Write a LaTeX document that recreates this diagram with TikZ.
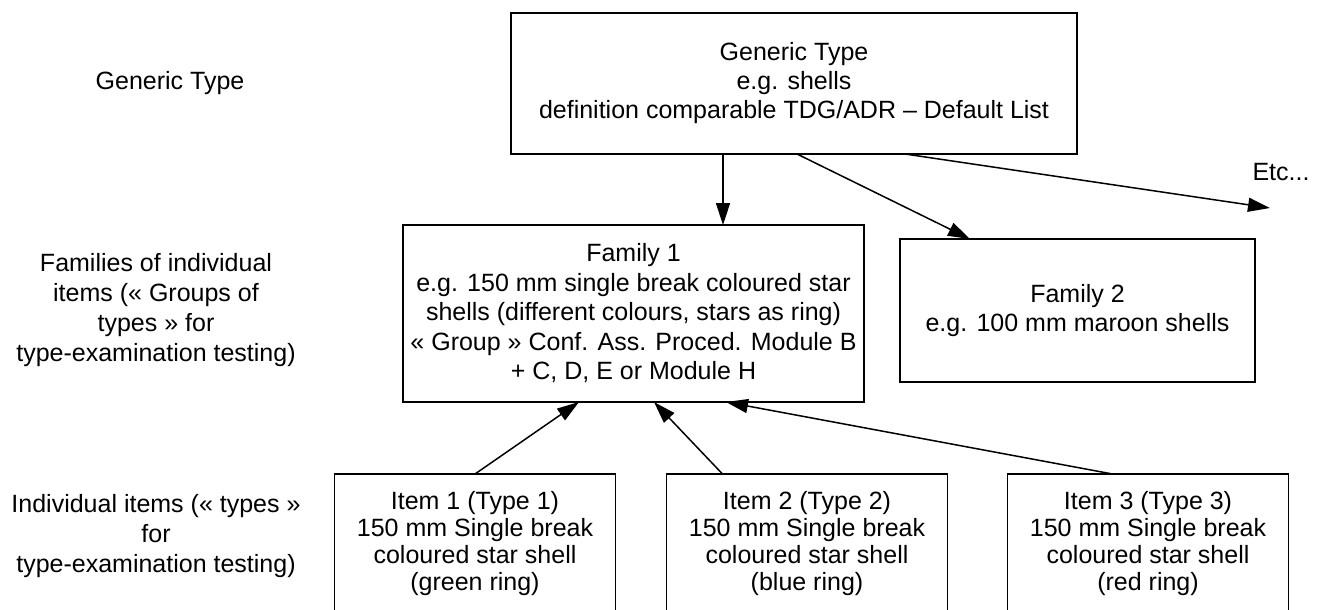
\documentclass[tikz,border=0pt]{standalone}
\usepackage{fontspec}
\setmainfont{Liberation Sans}
\usetikzlibrary{arrows.meta}
\tikzset{
  box/.style={draw, line width=1.6pt, inner sep=0pt, outer sep=0pt, align=center, fill=white},
  lbl/.style={inner sep=0pt, align=center},
  arr/.style={line width=1.5pt, -{Triangle[length=22pt,width=14pt]}},
  fs29/.style={font=\fontsize{25}{29}\selectfont},
  fs295/.style={font=\fontsize{25}{29.5}\selectfont},
  fs27/.style={font=\fontsize{25}{27}\selectfont},
  fs30/.style={font=\fontsize{25}{30}\selectfont}
}
\begin{document}
\begin{tikzpicture}[x=1pt,y=-1pt]
\useasboundingbox (0,0) rectangle (1322,610);
\clip (0,0) rectangle (1322,610);
\fill[white] (0,0) rectangle (1322,610);

% left labels
\node[lbl, fs30] (lg) at (170,83) {Generic Type};
\node[lbl, fs30] (lf) at (156,310) {Families of individual\\items (« Groups of\\types » for\\type-examination testing)};
\node[lbl, fs30] (li) at (156,536) {Individual items (« types »\\for\\type-examination testing)};

% boxes
\node[box, fs29, minimum width=566pt, minimum height=141pt] (g) at (794,83.5)
  {Generic Type\\e.g. shells\\definition comparable TDG/ADR – Default List};
\node[box, fs295, minimum width=461pt, minimum height=177pt] (f1) at (633.5,313.5)
  {Family 1\\e.g. 150 mm single break coloured star\\shells (different colours, stars as ring)\\« Group » Conf. Ass. Proced. Module B\\+ C, D, E or Module H};
\node[box, fs29, minimum width=355pt, minimum height=143pt] (f2) at (1077.5,310.5)
  {Family 2\\e.g. 100 mm maroon shells};
\node[box, fs27, minimum width=281pt, minimum height=140pt] (i1) at (475,544)
  {Item 1 (Type 1)\\150 mm Single break\\coloured star shell\\(green ring)};
\node[box, fs27, minimum width=281pt, minimum height=140pt] (i2) at (807,544)
  {Item 2 (Type 2)\\150 mm Single break\\coloured star shell\\(blue ring)};
\node[box, fs27, minimum width=281pt, minimum height=140pt] (i3) at (1148,544)
  {Item 3 (Type 3)\\150 mm Single break\\coloured star shell\\(red ring)};

\node[lbl, fs29] (etc) at (1281,172) {Etc...};
\coordinate (etcend) at (1270,208);

% connectors
\draw[arr] ([xshift=212pt]g.south west) -- ([xshift=320pt]f1.north west);
\draw[arr] ([xshift=286pt]g.south west) -- ([xshift=70pt]f2.north west);
\draw[arr] ([xshift=394pt]g.south west) -- (etcend);
\draw[arr] (i1.north) -- ([xshift=176pt]f1.south west);
\draw[arr] ([xshift=56pt]i2.north west) -- ([xshift=251pt]f1.south west);
\draw[arr] ([xshift=105pt]i3.north west) -- ([xshift=323pt]f1.south west);
\end{tikzpicture}
\end{document}
